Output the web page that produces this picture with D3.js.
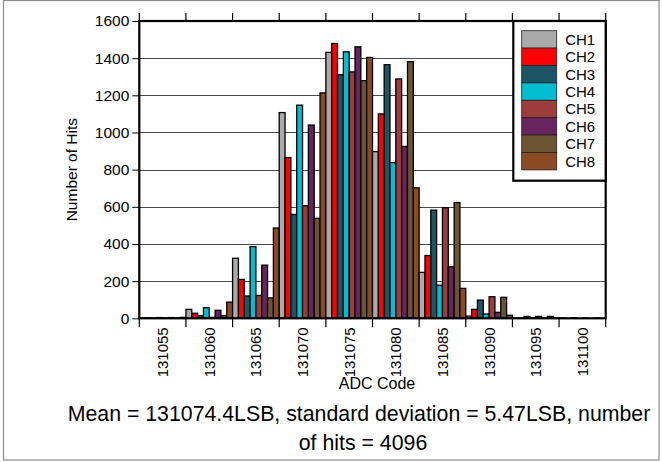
<!DOCTYPE html>
<html>
<head>
<meta charset="utf-8">
<script src="https://cdn.jsdelivr.net/npm/d3@7"></script>
<style>
  html, body { margin: 0; padding: 0; background: #fff; }
  svg { display: block; }
</style>
</head>
<body>
<div id="chart"></div>
<script>
const codes = ["131055", "131060", "131065", "131070", "131075", "131080", "131085", "131090", "131095", "131100"];
const channels = ["CH1", "CH2", "CH3", "CH4", "CH5", "CH6", "CH7", "CH8"];
const ch1 = [1, 48, 323, 1107, 1431, 897, 247, 12, 3, 1];
const ch2 = [3, 27, 209, 865, 1479, 1100, 338, 48, 2, 0];
const ch3 = [1, 14, 120, 559, 1311, 1365, 582, 98, 10, 3];
const ch4 = [4, 57, 386, 1147, 1434, 838, 178, 23, 2, 0];
const ch5 = [1, 5, 123, 606, 1326, 1288, 595, 116, 10, 1];
const ch6 = [4, 43, 286, 1040, 1461, 925, 277, 32, 2, 0];
const ch7 = [1, 14, 110, 538, 1279, 1381, 623, 113, 10, 1];
const ch8 = [5, 87, 486, 1213, 1404, 702, 161, 16, 2, 0];
const yTicks = [0, 200, 400, 600, 800, 1000, 1200, 1400, 1600];
const colors = ["#aaaaaa", "#ff0000", "#1b5566", "#00bdd0", "#9e3c3c", "#67245f", "#6b5431", "#8a4a23"];

const series = [ch1, ch2, ch3, ch4, ch5, ch6, ch7, ch8];
const width = 662, height = 462;
const margin = { top: 21, right: 56.3, bottom: 143.7, left: 139.3 };
const innerWidth = width - margin.left - margin.right;
const innerHeight = height - margin.top - margin.bottom;
const font = "Liberation Sans, Arial, sans-serif";

const svg = d3.select("#chart").append("svg")
  .attr("width", width).attr("height", height)
  .attr("viewBox", [0, 0, width, height])
  .attr("font-family", font);

// outer frame
svg.append("rect")
  .attr("x", 3.5).attr("y", 0.5).attr("width", 655.5).attr("height", 459.5)
  .attr("fill", "none").attr("stroke", "#8c8c8c").attr("stroke-width", 1.2);

const g = svg.append("g").attr("transform", `translate(${margin.left},${margin.top})`);

const x = d3.scaleBand().domain(codes).range([0, innerWidth]).padding(0);
const xs = d3.scaleBand().domain(channels).range([0, x.bandwidth()]).padding(0);
const y = d3.scaleLinear().domain([0, 1600]).range([innerHeight, 0]);

// grid
g.append("g")
  .selectAll("line")
  .data(yTicks.slice(1, -1))
  .join("line")
  .attr("x1", 0).attr("x2", innerWidth)
  .attr("y1", (d) => Math.round(y(d)) + 0.5).attr("y2", (d) => Math.round(y(d)) + 0.5)
  .attr("stroke", "#4a4a4a").attr("stroke-width", 1);

// bars
const cells = [];
codes.forEach((c, i) => channels.forEach((ch, j) => cells.push({ code: c, ch, j, value: series[j][i] })));
g.append("g")
  .selectAll("rect")
  .data(cells)
  .join("rect")
  .attr("x", (d) => x(d.code) + xs(d.ch))
  .attr("width", xs.bandwidth())
  .attr("y", (d) => y(d.value))
  .attr("height", (d) => innerHeight - y(d.value))
  .attr("fill", (d) => colors[d.j])
  .attr("stroke", "#000")
  .attr("stroke-width", 1.3);

// y axis
const yAxis = g.append("g")
  .call(d3.axisLeft(y).tickValues(yTicks).tickFormat(d3.format("d")).tickSize(7).tickPadding(3));
yAxis.select(".domain").remove();
yAxis.attr("font-size", 15.5).attr("font-family", font);
yAxis.selectAll("text").attr("fill", "#000");
yAxis.selectAll("line").attr("stroke", "#000");

// boundary ticks top and bottom
const bounds = codes.map((c) => x(c)).concat([innerWidth]);
g.append("g").selectAll("line").data(bounds).join("line")
  .attr("x1", (d) => d).attr("x2", (d) => d)
  .attr("y1", -8).attr("y2", 0)
  .attr("stroke", "#000").attr("stroke-width", 1.2);
g.append("g").selectAll("line").data(bounds).join("line")
  .attr("x1", (d) => d).attr("x2", (d) => d)
  .attr("y1", innerHeight).attr("y2", innerHeight + 9)
  .attr("stroke", "#000").attr("stroke-width", 1.2);

// frame of plot
g.append("rect")
  .attr("x", 0).attr("y", 0).attr("width", innerWidth).attr("height", innerHeight)
  .attr("fill", "none").attr("stroke", "#000").attr("stroke-width", 2.2);

// x labels
g.append("g").attr("font-size", 15).attr("font-family", font)
  .selectAll("text").data(codes).join("text")
  .attr("transform", (d) => `translate(${x(d) + x.bandwidth() / 2 + 5.5},${innerHeight + 9}) rotate(-90)`)
  .attr("text-anchor", "end")
  .text((d) => d);

// legend
const lg = g.append("g").attr("transform", `translate(${innerWidth - 92.4},0)`);
lg.append("rect")
  .attr("width", 92.4).attr("height", 159.7)
  .attr("fill", "#fff").attr("stroke", "#000").attr("stroke-width", 2.2);
const rowH = 17.4;
const items = lg.selectAll("g.item").data(channels).join("g")
  .attr("class", "item")
  .attr("transform", (d, i) => `translate(8.4,${9.7 + i * rowH})`);
items.append("rect")
  .attr("width", 35).attr("height", rowH)
  .attr("fill", (d, i) => colors[i])
  .attr("stroke", "#222").attr("stroke-width", 0.8);
items.append("text")
  .attr("x", 43.5).attr("y", rowH / 2 + 5.3)
  .attr("font-size", 15).attr("font-family", font)
  .text((d) => d);

// titles
svg.append("text")
  .attr("transform", `translate(77,${margin.top + innerHeight / 2}) rotate(-90)`)
  .attr("text-anchor", "middle")
  .attr("font-size", 15.5)
  .text("Number of Hits");
svg.append("text")
  .attr("x", 377).attr("y", 389)
  .attr("text-anchor", "middle")
  .attr("font-size", 16)
  .text("ADC Code");
svg.append("text")
  .attr("x", 359).attr("y", 421)
  .attr("text-anchor", "middle")
  .attr("font-size", 21.3)
  .text("Mean = 131074.4LSB, standard deviation = 5.47LSB, number");
svg.append("text")
  .attr("x", 363).attr("y", 450)
  .attr("text-anchor", "middle")
  .attr("font-size", 21.3)
  .text("of hits = 4096");
</script>
</body>
</html>
